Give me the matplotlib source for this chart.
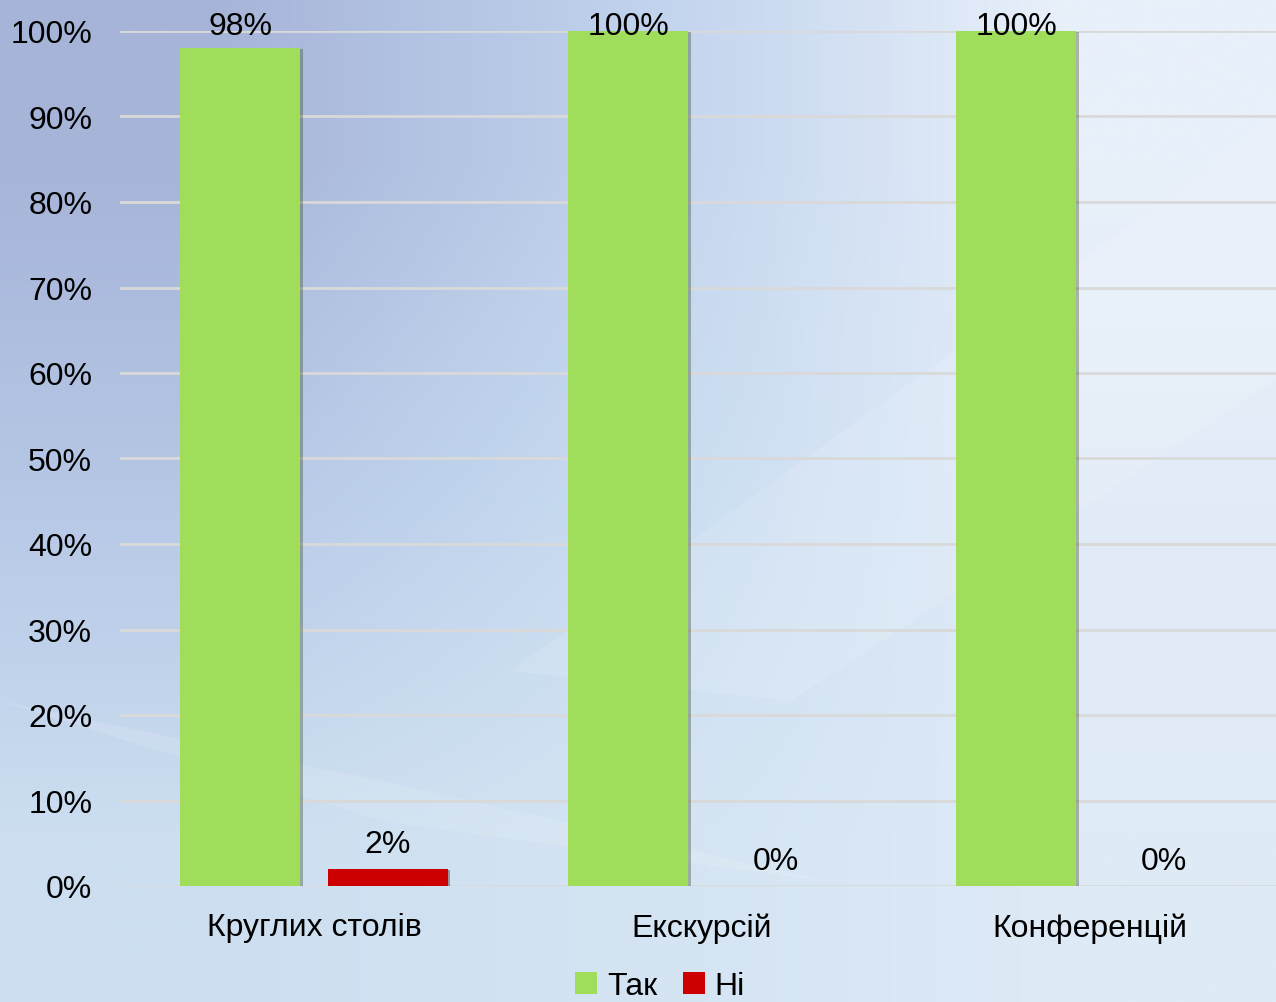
import numpy as np
import matplotlib.pyplot as plt
import matplotlib.patheffects as pe
from matplotlib.patches import Polygon

plt.rcParams["font.family"] = ["Liberation Sans", "DejaVu Sans"]

# Дані
categories = ["Круглих столів", "Екскурсій", "Конференцій"]
tak = [98, 100, 100]
ni = [2, 0, 0]
series_names = ["Так", "Ні"]
yticks = [0, 10, 20, 30, 40, 50, 60, 70, 80, 90, 100]

green = "#9fdd5a"
red = "#cc0000"

W, H = 1276, 1003
fig = plt.figure(figsize=(W / 100, H / 100), dpi=100)

# Фон: градієнт
bg = fig.add_axes([0, 0, 1, 1], zorder=-10)
bg.set_axis_off()
grid_cols = np.array([
    [[166, 180, 216], [192, 210, 237], [232, 240, 250]],
    [[182, 200, 230], [200, 220, 241], [226, 236, 248]],
    [[204, 222, 240], [212, 228, 243], [222, 234, 246]],
]) / 255
bg.imshow(grid_cols, extent=[0, 1, 0, 1], origin="upper", aspect="auto",
          interpolation="bilinear")
bg.add_patch(Polygon([[0.4, 0.33], [1, 0.88], [1, 0.62], [0.62, 0.3]],
                     closed=True, color="white", alpha=0.12, lw=0))
bg.add_patch(Polygon([[0, 0.3], [0.3, 0.22], [0.65, 0.12], [0.3, 0.18]],
                     closed=True, color="white", alpha=0.12, lw=0))
bg.set_xlim(0, 1)
bg.set_ylim(0, 1)

# Основний графік
x0, x1 = 120, 1284
y_top, y_bot = 32, 887
ax = fig.add_axes([x0 / W, 1 - y_bot / H, (x1 - x0) / W, (y_bot - y_top) / H])
ax.patch.set_alpha(0)

x = np.arange(len(categories))
bw = 0.31
off = 0.19
shadow = [pe.SimplePatchShadow(offset=(1.5, -1), alpha=0.35), pe.Normal()]
b1 = ax.bar(x - off, tak, bw, color=green, label=series_names[0], zorder=3)
b2 = ax.bar(x + off, ni, bw, color=red, label=series_names[1], zorder=3)
for p in list(b1) + list(b2):
    p.set_path_effects(shadow)

for xi, v in zip(x - off, tak):
    ax.text(xi, min(v + 2, 99.6), f"{v}%", ha="center", va="baseline", fontsize=23, zorder=5)
for xi, v in zip(x + off, ni):
    ax.text(xi, min(v + 2, 99.6), f"{v}%", ha="center", va="baseline", fontsize=23, zorder=5)

ax.set_xlim(-0.5, 2.5)
ax.set_ylim(0, 100)
ax.set_yticks(yticks)
ax.set_yticklabels([f"{t}%" for t in yticks], fontsize=23)
ax.set_xticks(x)
ax.set_xticklabels(categories, fontsize=23)
ax.tick_params(length=0)
ax.tick_params(axis="y", pad=20)
ax.tick_params(axis="x", pad=19)
ax.grid(axis="y", color="#d9d9d9", lw=2, zorder=1)
for s in ax.spines.values():
    s.set_visible(False)

leg = fig.legend(loc="center", bbox_to_anchor=(660 / W, 1 - 987 / H), ncol=2, frameon=False,
                 fontsize=23, handlelength=0.7, handleheight=0.7, handletextpad=0.3,
                 columnspacing=0.8)
for h in leg.legend_handles:
    h.set_path_effects([])

fig.savefig("out.png", dpi=100)
